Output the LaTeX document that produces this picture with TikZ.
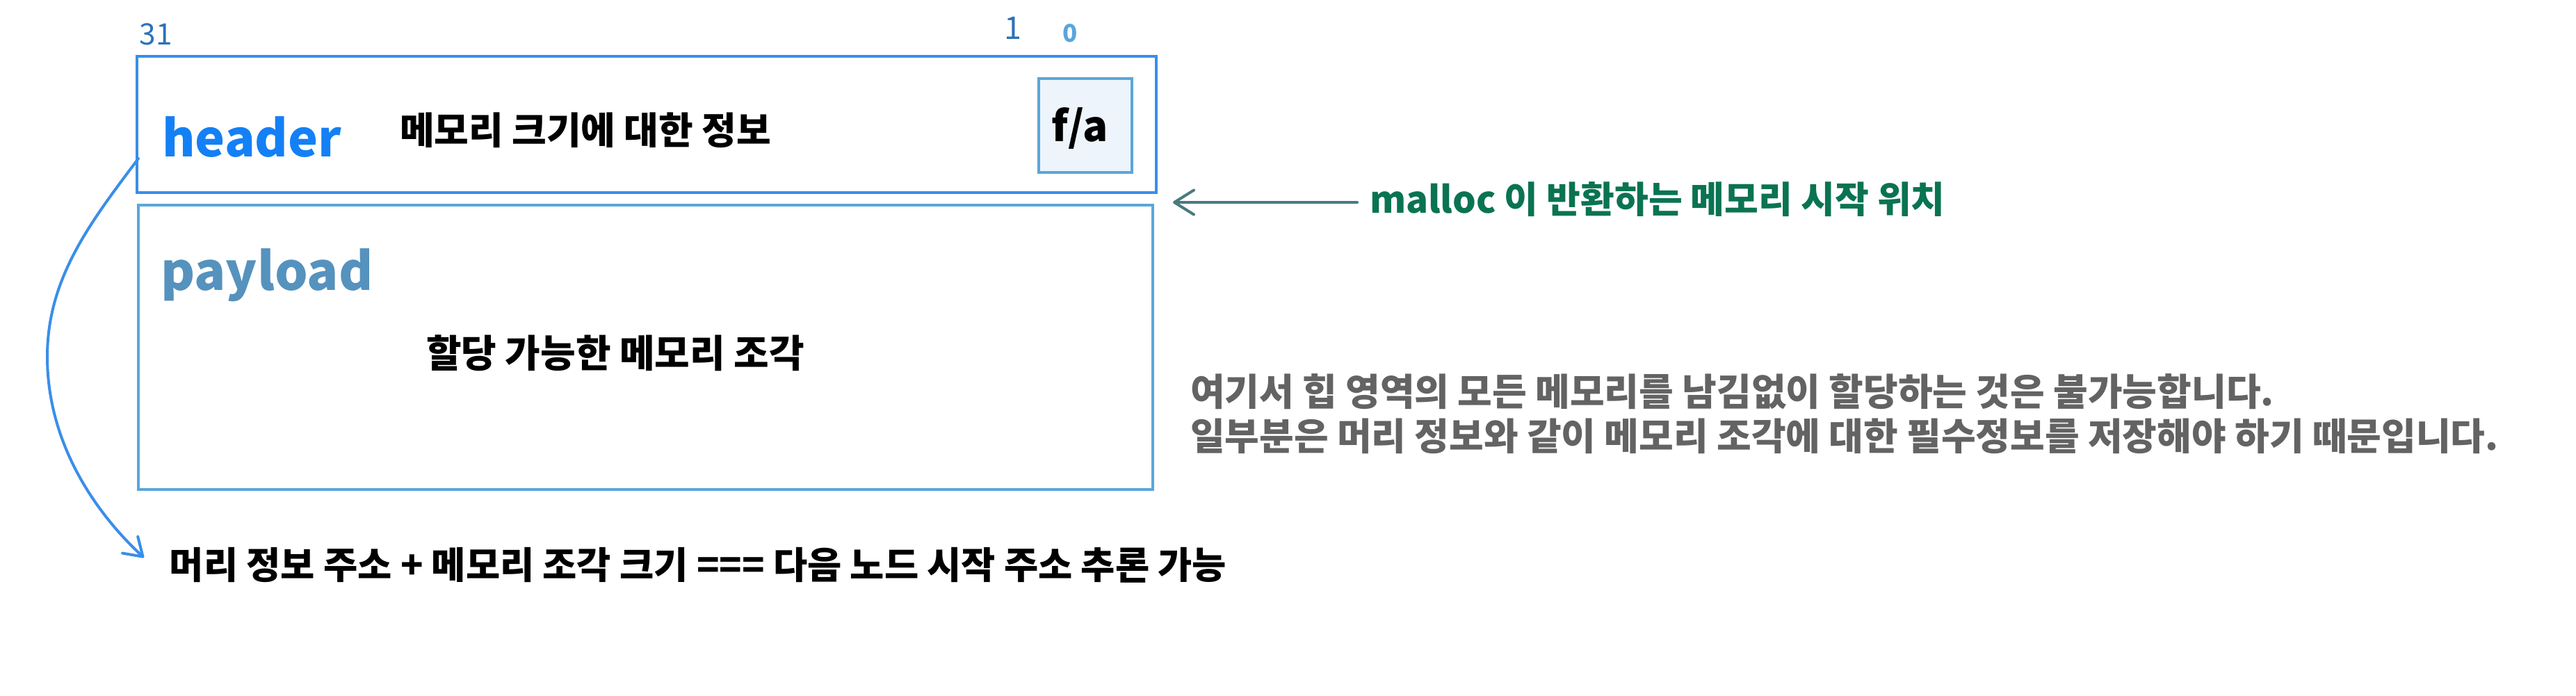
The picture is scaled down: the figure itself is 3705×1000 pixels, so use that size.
\documentclass[tikz,border=0pt]{standalone}
\usepackage{fontspec}
\usetikzlibrary{arrows.meta}
\setmainfont{Noto Sans CJK KR}
\newfontfamily\kr{Noto Sans CJK KR}
\definecolor{hdrblue}{RGB}{58,142,232}
\definecolor{payblue}{RGB}{91,166,219}
\definecolor{fafill}{RGB}{237,244,251}
\definecolor{hdrtext}{RGB}{20,128,245}
\definecolor{paytext}{RGB}{85,146,189}
\definecolor{greentext}{RGB}{10,115,82}
\definecolor{tealarrow}{RGB}{73,122,127}
\definecolor{greytext}{RGB}{99,99,99}
\definecolor{numdark}{RGB}{45,114,184}
\definecolor{numlight}{RGB}{90,165,220}
\tikzset{
  boxline/.style={draw, line width=0.8pt, inner sep=0pt},
  label/.style={inner sep=0pt, font=\kr\bfseries},
  num/.style={inner sep=0pt, font=\kr},
}
\begin{document}
\begin{tikzpicture}[x=0.2pt, y=-0.2pt]
\useasboundingbox (0,0) rectangle (3705,1000);
% boxes
\node[boxline, hdrblue, minimum width=293.2pt, minimum height=39.2pt] (header) at (930,179) {};
\node[boxline, payblue, minimum width=291.8pt, minimum height=81.8pt] (payload) at (928.5,499.5) {};
\node[boxline, payblue, fill=fafill, minimum width=26.8pt, minimum height=27pt] (fa) at (1561,180.5) {};
% numbers
\node[num, numdark, font=\kr\fontsize{8.5}{8.5}\selectfont, anchor=base] (n31) at (224,64) {31};
\node[num, numdark, font=\kr\fontsize{9}{9}\selectfont, anchor=base] (n1) at (1457,57) {1};
\node[num, numlight, font=\kr\bfseries\fontsize{7}{7}\selectfont, anchor=base] (n0) at (1539,61) {0};
% texts
\node[label, hdrtext, font=\kr\bfseries\fontsize{14.5}{14.5}\selectfont, anchor=base west] (htxt) at (232,225) {header};
\node[label, anchor=base, font=\kr\bfseries\fontsize{10.8}{10.8}\selectfont] (hinfo) at (842,207) {메모리 크기에 대한 정보};
\node[label, anchor=base, font=\kr\bfseries\fontsize{12}{12}\selectfont] (fatxt) at (1553,203) {f/a};
\node[label, paytext, font=\kr\bfseries\fontsize{15}{15}\selectfont, anchor=base west] (ptxt) at (230,417) {payload};
\node[label, anchor=base, font=\kr\bfseries\fontsize{11}{11}\selectfont] (pinfo) at (885,528) {할당 가능한 메모리 조각};
\node[label, greentext, anchor=base west, font=\kr\bfseries\fontsize{10.6}{10.6}\selectfont] (mtxt) at (1969,306) {malloc 이 반환하는 메모리 시작 위치};
\node[label, greytext, anchor=base west, font=\kr\bfseries\fontsize{10.8}{10.8}\selectfont] (g1) at (1711,583) {여기서 힙 영역의 모든 메모리를 남김없이 할당하는 것은 불가능합니다.};
\node[label, greytext, anchor=base west, font=\kr\bfseries\fontsize{10.8}{10.8}\selectfont] (g2) at (1711,647) {일부분은 머리 정보와 같이 메모리 조각에 대한 필수정보를 저장해야 하기 때문입니다.};
\node[label, anchor=base, font=\kr\bfseries\fontsize{10.7}{10.7}\selectfont] (btxt) at (1004,832) {머리 정보 주소 + 메모리 조각 크기 === 다음 노드 시작 주소 추론 가능};
% connectors
\coordinate (mstart) at (1952,291);
\coordinate (mtip) at (1687,291);
\draw[tealarrow, line width=0.8pt, line cap=round, -{Straight Barb[round, length=5.6pt, width=7pt]}] (mstart) -- (mtip);
\coordinate (cstart) at (199,228);
\coordinate (cmid) at (68,513);
\coordinate (ctip) at (207,802);
\draw[hdrblue, line width=0.8pt, line cap=round, -{Straight Barb[round, length=5pt, width=6.5pt]}] (cstart) .. controls (130,320) and (68,400) .. (cmid) .. controls (68,640) and (140,740) .. (ctip);
\end{tikzpicture}
\end{document}
